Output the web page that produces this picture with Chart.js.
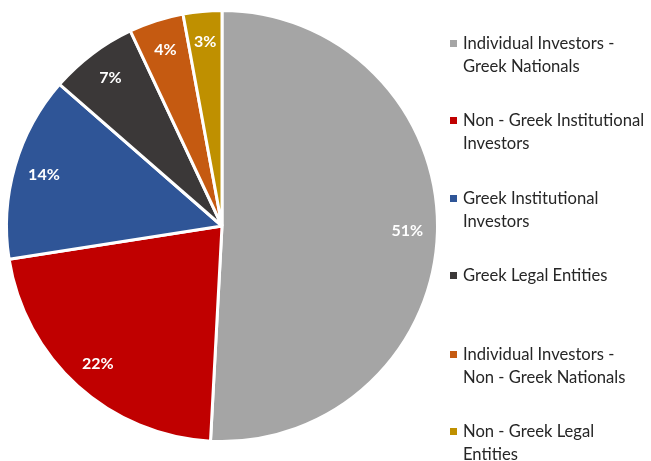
<!DOCTYPE html>
<html>
<head>
<meta charset="utf-8">
<script src="https://cdn.jsdelivr.net/npm/chart.js@4/dist/chart.umd.min.js"></script>
<style>
  html, body { margin: 0; padding: 0; background: #fff; }
  #wrap { position: relative; width: 651px; height: 461px; }
  #c { position: absolute; left: 0; top: 0; }
  .leg { position: absolute; left: 463px; font-family: Lato, "Open Sans", sans-serif; font-size: 16.6px; line-height: 23px; color: #262626; white-space: nowrap; }
  .mk { position: absolute; left: -13px; top: 8px; width: 7px; height: 7px; }
</style>
</head>
<body>
<div id="wrap">
  <canvas id="c" width="651" height="461"></canvas>
</div>
<script>
const categories = [
  ["Individual Investors -", "Greek Nationals"],
  ["Non - Greek Institutional", "Investors"],
  ["Greek Institutional", "Investors"],
  ["Greek Legal Entities"],
  ["Individual Investors -", "Non - Greek Nationals"],
  ["Non - Greek Legal", "Entities"]
];
const shares = [50.9, 21.7, 13.9, 6.6, 4.1, 2.9];
const colors = ["#A5A5A5", "#C00000", "#2F5597", "#3B3838", "#C55A11", "#BF9000"];
const legendTops = [32, 109, 187, 264, 343, 420];

const labelPlugin = {
  id: 'sliceLabels',
  afterDatasetsDraw(chart) {
    const ctx = chart.ctx;
    const meta = chart.getDatasetMeta(0);
    ctx.save();
    ctx.fillStyle = '#FFFFFF';
    ctx.font = 'bold 16px Lato, "Open Sans", sans-serif';
    ctx.textAlign = 'center';
    ctx.textBaseline = 'middle';
    meta.data.forEach((arc, i) => {
      const p = arc.getProps(['x', 'y', 'startAngle', 'endAngle', 'outerRadius'], true);
      const mid = (p.startAngle + p.endAngle) / 2;
      const d = p.outerRadius * 0.86;
      ctx.fillText(Math.round(shares[i]) + '%', p.x + Math.cos(mid) * d, p.y + Math.sin(mid) * d);
    });
    ctx.restore();
  }
};

new Chart(document.getElementById('c'), {
  type: 'pie',
  data: {
    labels: categories,
    datasets: [{
      data: shares,
      backgroundColor: colors,
      borderColor: '#FFFFFF',
      borderWidth: 3
    }]
  },
  options: {
    responsive: false,
    animation: false,
    layout: { padding: { left: 5, right: 212, top: 9, bottom: 18 } },
    plugins: { legend: { display: false }, tooltip: { enabled: false } }
  },
  plugins: [labelPlugin]
});

const wrap = document.getElementById('wrap');
categories.forEach((lines, i) => {
  const d = document.createElement('div');
  d.className = 'leg';
  d.style.top = legendTops[i] + 'px';
  d.innerHTML = '<span class="mk" style="background:' + colors[i] + '"></span>' + lines.join('<br>');
  wrap.appendChild(d);
});
</script>
</body>
</html>
